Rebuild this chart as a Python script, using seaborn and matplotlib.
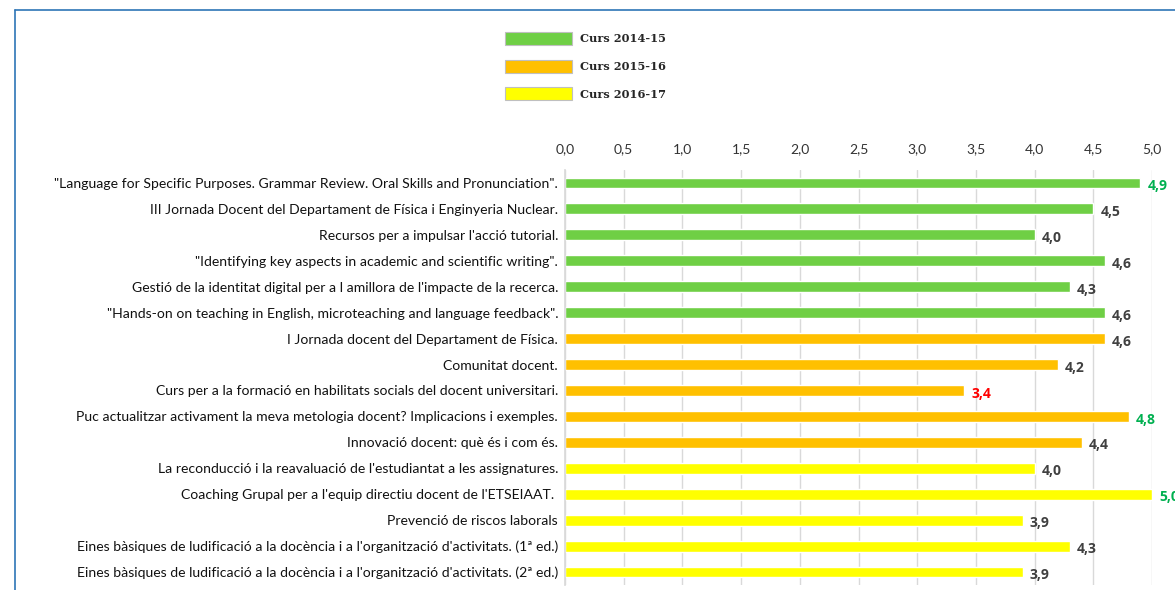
import pandas as pd
import matplotlib.pyplot as plt
import matplotlib.ticker as mticker
from matplotlib.patches import Patch
from matplotlib.lines import Line2D
import seaborn as sns

# Data
courses = [
    '"Language for Specific Purposes. Grammar Review. Oral Skills and Pronunciation".',
    'III Jornada Docent del Departament de Física i Enginyeria Nuclear.',
    "Recursos per a impulsar l'acció tutorial.",
    '"Identifying key aspects in academic and scientific writing".',
    "Gestió de la identitat digital per a l amillora de l'impacte de la recerca.",
    '"Hands-on on teaching in English, microteaching and language feedback".',
    'I Jornada docent del Departament de Física.',
    'Comunitat docent.',
    'Curs per a la formació en habilitats socials del docent universitari.',
    'Puc actualitzar activament la meva metologia docent? Implicacions i exemples.',
    'Innovació docent: què és i com és.',
    "La reconducció i la reavaluació de l'estudiantat a les assignatures.",
    "Coaching Grupal per a l'equip directiu docent de l'ETSEIAAT. ",
    'Prevenció de riscos laborals',
    "Eines bàsiques de ludificació a la docència i a l'organització d'activitats. (1ª ed.)",
    "Eines bàsiques de ludificació a la docència i a l'organització d'activitats. (2ª ed.)",
]
scores = [4.9, 4.5, 4.0, 4.6, 4.3, 4.6, 4.6, 4.2, 3.4, 4.8, 4.4, 4.0, 5.0, 3.9, 4.3, 3.9]
years = ['Curs 2014-15'] * 6 + ['Curs 2015-16'] * 5 + ['Curs 2016-17'] * 5
year_names = ['Curs 2014-15', 'Curs 2015-16', 'Curs 2016-17']
year_colors = ['#6FCF45', '#FFC000', '#FFFF00']

df = pd.DataFrame({'Curs': courses, 'Valor': scores, 'Any': years})

sns.set_theme(style='white')
plt.rcParams['font.family'] = ['Lato', 'DejaVu Sans']

fig = plt.figure(figsize=(11.75, 5.9), dpi=100)
ax = fig.add_axes([565 / 1175, 1 - 585 / 590, 587 / 1175, 415 / 590])

sns.barplot(data=df, x='Valor', y='Curs', hue='Any', hue_order=year_names,
            palette=year_colors, dodge=False, width=0.42, legend=False,
            saturation=1, ax=ax, orient='h')

ax.set_xlim(0, 5)
ax.xaxis.tick_top()
ax.xaxis.set_major_locator(mticker.MultipleLocator(0.5))
ax.xaxis.set_major_formatter(mticker.FuncFormatter(lambda v, p: f'{v:.1f}'.replace('.', ',')))
ax.tick_params(axis='x', length=0, pad=11, labelsize=10, colors='#333333')
ax.tick_params(axis='y', length=0, pad=5, labelsize=10.1, colors='#111111')
ax.set_xlabel('')
ax.set_ylabel('')
ax.grid(axis='x', color='#D9D9D9', linewidth=1)
ax.set_axisbelow(True)
for side in ['top', 'right', 'bottom']:
    ax.spines[side].set_visible(False)
ax.spines['left'].set_color('#D9D9D9')

# value labels
for i, v in enumerate(scores):
    if v >= 4.75:
        c = '#00B050'
    elif v < 3.5:
        c = '#FF0000'
    else:
        c = '#404040'
    ax.text(v + 0.06, i + 0.12, f'{v:.1f}'.replace('.', ','), color=c,
            fontsize=10, fontweight='bold', family='Open Sans',
            va='center', ha='left', clip_on=False)

# legend
handles = [Patch(facecolor=c, edgecolor='#BFBFBF', linewidth=0.8) for c in year_colors]
fig.legend(handles, year_names, loc='upper left', bbox_to_anchor=(495 / 1175, 1 - 22 / 590),
           frameon=False, handlelength=5.9, handleheight=1.35, labelspacing=1.3,
           handletextpad=0.7, prop={'family': 'DejaVu Serif', 'weight': 'bold', 'size': 8.2})

# outer frame (blue)
fig.add_artist(Line2D([15 / 1175, 15 / 1175], [0, 1 - 10 / 590], transform=fig.transFigure,
                      color='#2E75B6', linewidth=1.2))
fig.add_artist(Line2D([15 / 1175, 1], [1 - 10 / 590, 1 - 10 / 590], transform=fig.transFigure,
                      color='#2E75B6', linewidth=1.2))

fig.savefig('out.png', dpi=100)
